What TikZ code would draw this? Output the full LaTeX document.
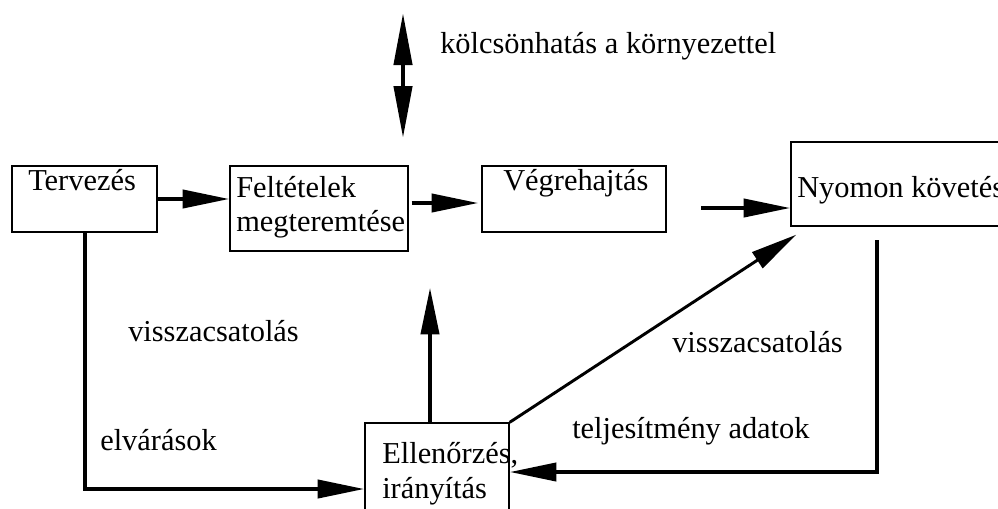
\documentclass[tikz,border=0pt]{standalone}
\usepackage{fontspec}
\setmainfont{Liberation Serif}
\usetikzlibrary{arrows.meta,calc}
\begin{document}
\begin{tikzpicture}[x=0.75pt,y=-0.75pt,
  box/.style 2 args={draw, line width=1pt, fill=white, inner sep=0pt,
    minimum width={#1*0.75pt}, minimum height={#2*0.75pt}},
  lbl/.style={anchor=base west, inner sep=0pt, font=\fontsize{22.8}{26}\selectfont},
  flow/.style={line width=3pt, -{Triangle[length=35pt,width=13.5pt]}},
  thin flow/.style={line width=2.2pt, -{Triangle[length=35pt,width=14pt]}},
  both/.style={line width=3.2pt, {Triangle[length=39pt,width=13.5pt]}-{Triangle[length=39pt,width=13.5pt]}}]
\clip (0,0) rectangle (998,508);
\fill[white] (0,0) rectangle (998,508);

% process boxes
\node[box={145}{66}]  (terv) at (84.5,199) {};
\node[box={178}{85}]  (felt) at (319,208.5) {};
\node[box={184}{66}]  (vegr) at (574,199) {};
\node[box={250}{84}]  (nyom) at (916,184) {};
\node[box={144}{98}]  (ell)  at (437,472) {};

% box captions
\node[lbl] (tervtxt)  at (28,190)  {Tervezés};
\node[lbl] (felttxt1) at (236,197) {Feltételek};
\node[lbl] (felttxt2) at (236,231) {megteremtése};
\node[lbl] (vegrtxt)  at (503,190) {Végrehajtás};
\node[lbl] (nyomtxt)  at (797,197) {Nyomon követés};
\node[lbl] (elltxt1)  at (382,463) {Ellenőrzés,};
\node[lbl] (elltxt2)  at (382,498) {irányítás};

% free labels
\node[lbl] (korny)  at (440,53)  {kölcsönhatás a környezettel};
\node[lbl] (vissz1) at (128,341) {visszacsatolás};
\node[lbl] (elvar)  at (100,450) {elvárások};
\node[lbl] (vissz2) at (672,352) {visszacsatolás};
\node[lbl] (telj)   at (572,438) {teljesítmény adatok};

% free ends of connectors
\coordinate (envtop) at (403,13);
\coordinate (envbot) at (403,138);
\coordinate (vegrout) at (701,208);
\coordinate (nyomout) at (877,240);

% connectors
\draw[both] (envtop) -- (envbot);
\draw[flow] (terv.east) -- (terv.east -| felt.west);
\draw[flow] ($(felt.east)+(3,-5.5)$) -- ($(vegr.west)+(-3,4)$);
\draw[flow] (vegrout) -- (vegrout -| nyom.west);
\draw[flow] ($(ell.north)+(-7,0)$) -- ($(felt.south)+(111,36)$);
\draw[thin flow] (ell.north east) -- ($(nyom.south west)+(6,8)$);
\draw[flow] (nyomout) |- (ell.east);
\draw[flow] (terv.south) |- ($(ell.west)+(0,17)$);
\end{tikzpicture}
\end{document}
